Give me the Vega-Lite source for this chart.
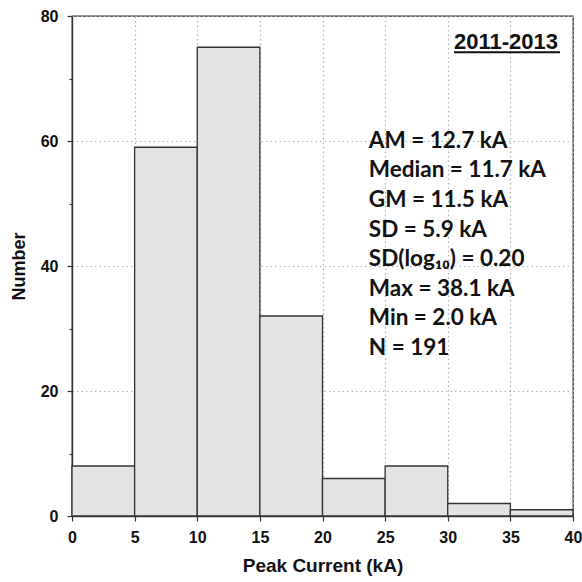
{
  "$schema": "https://vega.github.io/schema/vega-lite/v6.json",
  "width": 501,
  "height": 500,
  "autosize": "none",
  "padding": {"left": 72, "top": 16, "right": 9, "bottom": 66},
  "background": "white",
  "config": {
    "view": {"stroke": "#333333", "strokeWidth": 1.3}
  },
  "data": {
    "values": [
      {"bin_start": 0, "bin_end": 5, "count": 8},
      {"bin_start": 5, "bin_end": 10, "count": 59},
      {"bin_start": 10, "bin_end": 15, "count": 75},
      {"bin_start": 15, "bin_end": 20, "count": 32},
      {"bin_start": 20, "bin_end": 25, "count": 6},
      {"bin_start": 25, "bin_end": 30, "count": 8},
      {"bin_start": 30, "bin_end": 35, "count": 2},
      {"bin_start": 35, "bin_end": 40, "count": 1}
    ]
  },
  "layer": [
    {
      "mark": {"type": "rect", "fill": "#e3e3e3", "stroke": "#333333", "strokeWidth": 1.3},
      "encoding": {
        "x": {
          "field": "bin_start",
          "type": "quantitative",
          "scale": {"domain": [0, 40], "nice": false, "zero": false},
          "axis": {
            "title": "Peak Current (kA)",
            "values": [0, 5, 10, 15, 20, 25, 30, 35, 40],
            "grid": true,
            "labelFlush": false,
            "labelOverlap": false,
            "domainColor": "#333333",
            "domainWidth": 1.3,
            "tickColor": "#333333",
            "tickWidth": 1.2,
            "tickSize": 5,
            "labelFont": "Liberation Sans",
            "labelFontWeight": "bold",
            "labelFontSize": 16,
            "labelColor": "#111111",
            "labelPadding": 8,
            "titleFont": "Liberation Sans",
            "titleFontWeight": "bold",
            "titleFontSize": 19,
            "titleColor": "#111111",
            "gridColor": "#b0b0b0",
            "gridDash": [1.5, 3],
            "gridWidth": 1.2,
            "titlePadding": 11
          }
        },
        "x2": {"field": "bin_end"},
        "y": {
          "field": "count",
          "type": "quantitative",
          "scale": {"domain": [0, 80], "nice": false},
          "axis": {
            "title": "Number",
            "values": [0, 10, 20, 30, 40, 50, 60, 70, 80],
            "labelExpr": "datum.value % 20 == 0 ? datum.label : ''",
            "labelFlush": false,
            "labelOverlap": false,
            "grid": true,
            "gridOpacity": {"condition": {"test": "datum.value % 20 == 0", "value": 1}, "value": 0},
            "tickSize": {"condition": {"test": "datum.value % 20 == 0", "value": 5}, "value": 3},
            "domainColor": "#333333",
            "domainWidth": 1.3,
            "tickColor": "#333333",
            "tickWidth": 1.2,
            "labelFont": "Liberation Sans",
            "labelFontWeight": "bold",
            "labelFontSize": 16,
            "labelColor": "#111111",
            "labelPadding": 9,
            "titleFont": "Liberation Sans",
            "titleFontWeight": "bold",
            "titleFontSize": 18,
            "titleColor": "#111111",
            "gridColor": "#b0b0b0",
            "gridDash": [1.5, 3],
            "gridWidth": 1.2,
            "titlePadding": 12
          }
        },
        "y2": {"datum": 0}
      }
    },
    {
      "data": {"values": [{"label": "stats"}]},
      "mark": {
        "type": "text",
        "text": ["AM = 12.7 kA", "Median = 11.7 kA", "GM = 11.5 kA", "SD = 5.9 kA", "SD(log₁₀) = 0.20", "Max = 38.1 kA", "Min = 2.0 kA", "N = 191"],
        "font": "Lato",
        "fontWeight": "bold",
        "fontSize": 22.5,
        "lineHeight": 29.6,
        "align": "left",
        "baseline": "alphabetic",
        "color": "#111111"
      },
      "encoding": {"x": {"datum": 23.7}, "y": {"datum": 58.9}}
    },
    {
      "data": {"values": [{"label": "period"}]},
      "mark": {
        "type": "text",
        "text": "2011-2013",
        "font": "Liberation Sans",
        "fontWeight": "bold",
        "fontSize": 22,
        "align": "left",
        "baseline": "alphabetic",
        "color": "#111111"
      },
      "encoding": {"x": {"datum": 30.5}, "y": {"datum": 74.7}}
    },
    {
      "data": {"values": [{"label": "underline"}]},
      "mark": {"type": "rule", "color": "#111111", "strokeWidth": 2},
      "encoding": {"x": {"datum": 30.5}, "x2": {"datum": 38.96}, "y": {"datum": 74.2}}
    }
  ]
}
